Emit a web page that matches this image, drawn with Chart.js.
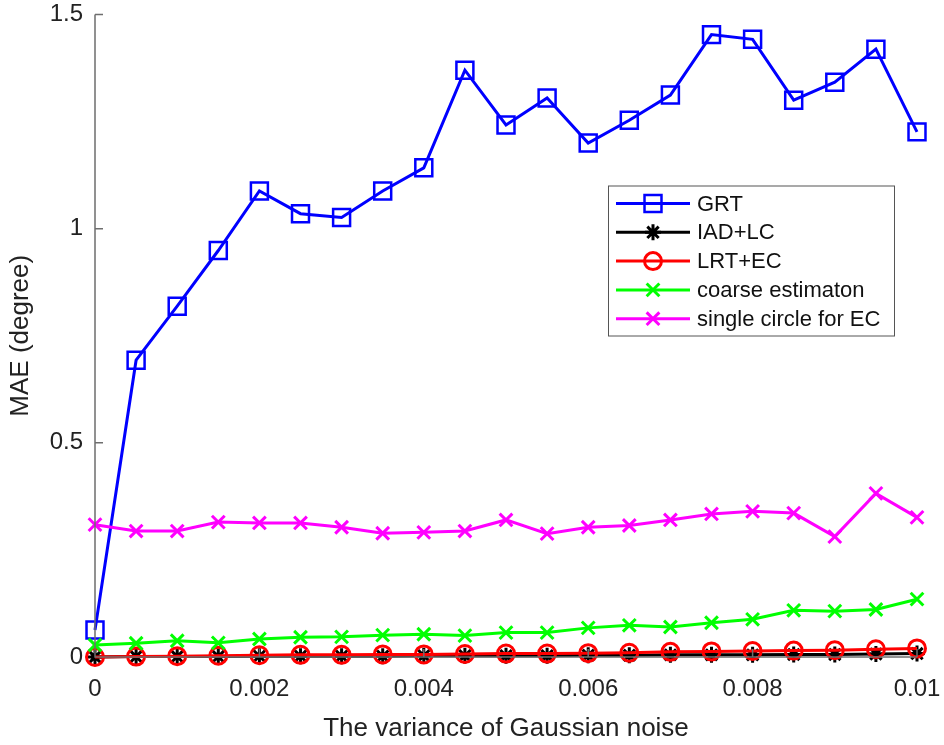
<!DOCTYPE html>
<html>
<head>
<meta charset="utf-8">
<script src="https://cdn.jsdelivr.net/npm/chart.js@4.4.0/dist/chart.umd.min.js"></script>
<style>
html,body{margin:0;padding:0;background:#fff;}
#wrap{width:944px;height:745px;position:relative;}
</style>
</head>
<body>
<div id="wrap"><canvas id="c" width="944" height="745"></canvas></div>
<script>
// ---- data ----
const noiseVariance = [0, 0.0005, 0.001, 0.0015, 0.002, 0.0025, 0.003, 0.0035, 0.004, 0.0045, 0.005,
                       0.0055, 0.006, 0.0065, 0.007, 0.0075, 0.008, 0.0085, 0.009, 0.0095, 0.01];
const grt = [0.063, 0.693, 0.819, 0.949, 1.088, 1.035, 1.026, 1.088, 1.142, 1.370, 1.242,
             1.305, 1.200, 1.253, 1.312, 1.453, 1.442, 1.300, 1.342, 1.419, 1.226];
const iadLc = [0.000, 0.001, 0.001, 0.001, 0.002, 0.002, 0.002, 0.002, 0.003, 0.003, 0.003,
               0.003, 0.004, 0.004, 0.005, 0.005, 0.005, 0.006, 0.006, 0.007, 0.008];
const lrtEc = [0.000, 0.001, 0.002, 0.003, 0.004, 0.005, 0.005, 0.006, 0.006, 0.007, 0.008,
               0.008, 0.009, 0.010, 0.012, 0.013, 0.014, 0.015, 0.016, 0.018, 0.020];
const coarse = [0.028, 0.032, 0.038, 0.033, 0.042, 0.046, 0.047, 0.051, 0.053, 0.050, 0.057,
                0.057, 0.068, 0.074, 0.070, 0.080, 0.088, 0.109, 0.107, 0.111, 0.135];
const singleCircle = [0.309, 0.294, 0.294, 0.315, 0.313, 0.313, 0.303, 0.289, 0.291, 0.294, 0.320,
                      0.288, 0.303, 0.307, 0.320, 0.334, 0.340, 0.336, 0.281, 0.382, 0.326];
const seriesNames = ['GRT', 'IAD+LC', 'LRT+EC', 'coarse estimaton', 'single circle for EC'];
const xTicks = [0, 0.002, 0.004, 0.006, 0.008, 0.01];
const yTicks = [0, 0.5, 1, 1.5];
const xTitle = 'The variance of Gaussian noise';
const yTitle = 'MAE (degree)';

const FONT = "'Liberation Sans', Arial, Helvetica, sans-serif";
const AXIS_COLOR = '#6e6e6e';

function pts(arr){ return noiseVariance.map((x,i)=>({x:x, y:arr[i]})); }

const styles = [
  {color:'#0000ff', pointStyle:'rect', radius:12, bw:2.5, order:5},
  {color:'#000000', pointStyle:'star', radius:8, bw:3, order:4},
  {color:'#ff0000', pointStyle:'circle', radius:8.5, bw:3, order:3},
  {color:'#00ff00', pointStyle:'crossRot', radius:9, bw:3, order:2},
  {color:'#ff00ff', pointStyle:'crossRot', radius:9, bw:3, order:1}
];
const seriesData = [grt, iadLc, lrtEc, coarse, singleCircle];

const datasets = seriesData.map((arr,i)=>({
  label: seriesNames[i],
  data: pts(arr),
  borderColor: styles[i].color,
  backgroundColor: 'rgba(0,0,0,0)',
  pointBackgroundColor: 'rgba(0,0,0,0)',
  pointBorderColor: styles[i].color,
  borderWidth: 3,
  pointStyle: styles[i].pointStyle,
  pointRadius: styles[i].radius,
  pointBorderWidth: styles[i].bw,
  pointHoverRadius: styles[i].radius,
  tension: 0,
  clip: false,
  order: styles[i].order
}));

// inward tick marks + axis lines
const axisPlugin = {
  id: 'axisTicks',
  afterDatasetsDraw(chart){
    const ctx = chart.ctx, a = chart.chartArea;
    const xs = chart.scales.x, ys = chart.scales.y;
    ctx.save();
    ctx.strokeStyle = AXIS_COLOR;
    ctx.lineWidth = 1.5;
    ctx.beginPath();
    ctx.moveTo(a.left, a.top); ctx.lineTo(a.left, a.bottom); ctx.lineTo(a.right, a.bottom);
    yTicks.forEach(v=>{ const y = ys.getPixelForValue(v); ctx.moveTo(a.left, y); ctx.lineTo(a.left+8, y); });
    xTicks.forEach(v=>{ const x = xs.getPixelForValue(v); ctx.moveTo(x, a.bottom); ctx.lineTo(x, a.bottom-8); });
    ctx.stroke();
    ctx.restore();
  }
};

// legend inside plot
const legendPlugin = {
  id: 'innerLegend',
  afterDraw(chart){
    const ctx = chart.ctx, a = chart.chartArea;
    const left = a.right - 309, top = a.top + 171, w = 286, h = 150;
    ctx.save();
    ctx.fillStyle = '#fff';
    ctx.fillRect(left, top, w, h);
    ctx.strokeStyle = '#555';
    ctx.lineWidth = 1;
    ctx.strokeRect(left+0.5, top+0.5, w, h);
    ctx.font = '22px ' + FONT;
    ctx.textBaseline = 'middle';
    chart.data.datasets.forEach((ds,i)=>{
      const y = top + 18 + i*28.8;
      const x0 = left + 8, x1 = left + 82;
      ctx.strokeStyle = ds.borderColor;
      ctx.lineWidth = 3;
      ctx.beginPath(); ctx.moveTo(x0,y); ctx.lineTo(x1,y); ctx.stroke();
      ctx.lineWidth = ds.pointBorderWidth;
      ctx.strokeStyle = ds.pointBorderColor;
      ctx.fillStyle = 'rgba(0,0,0,0)';
      Chart.helpers.drawPoint(ctx, {pointStyle: ds.pointStyle, radius: ds.pointRadius, borderWidth: ds.pointBorderWidth, rotation:0}, (x0+x1)/2, y);
      ctx.fillStyle = '#111';
      ctx.fillText(ds.label, left + 89, y+1);
    });
    ctx.restore();
  }
};

new Chart(document.getElementById('c'), {
  type: 'line',
  data: { datasets },
  options: {
    responsive: false,
    animation: false,
    events: [],
    layout: { padding: { left: 0, right: 27, top: 12, bottom: 0 } },
    plugins: { legend: { display: false }, tooltip: { enabled: false } },
    scales: {
      x: {
        type: 'linear', min: 0, max: 0.01,
        afterBuildTicks: s => { s.ticks = xTicks.map(v=>({value:v})); },
        afterFit: s => { s.height = 88; s.paddingLeft = 0; s.paddingRight = 0; },
        grid: { display: false, drawTicks: false },
        border: { display: false },
        ticks: {
          padding: 18, color: '#222',
          font: { family: FONT, size: 24 },
          maxRotation: 0, autoSkip: false,
          callback: v => String(+Number(v).toFixed(4))
        },
        title: { display: true, text: xTitle, color: '#222', font: { family: FONT, size: 26 }, padding: { top: 0, bottom: 1 } }
      },
      y: {
        type: 'linear', min: 0, max: 1.5,
        afterBuildTicks: s => { s.ticks = yTicks.map(v=>({value:v})); },
        afterFit: s => { s.width = 95; s.paddingTop = 0; s.paddingBottom = 0; },
        grid: { display: false, drawTicks: false },
        border: { display: false },
        ticks: {
          padding: 12, color: '#222',
          font: { family: FONT, size: 24 },
          autoSkip: false,
          callback: v => String(+Number(v).toFixed(2))
        },
        title: { display: true, text: yTitle, color: '#222', font: { family: FONT, size: 26 }, padding: { top: 5, bottom: 0 } }
      }
    }
  },
  plugins: [axisPlugin, legendPlugin]
});
</script>
</body>
</html>
